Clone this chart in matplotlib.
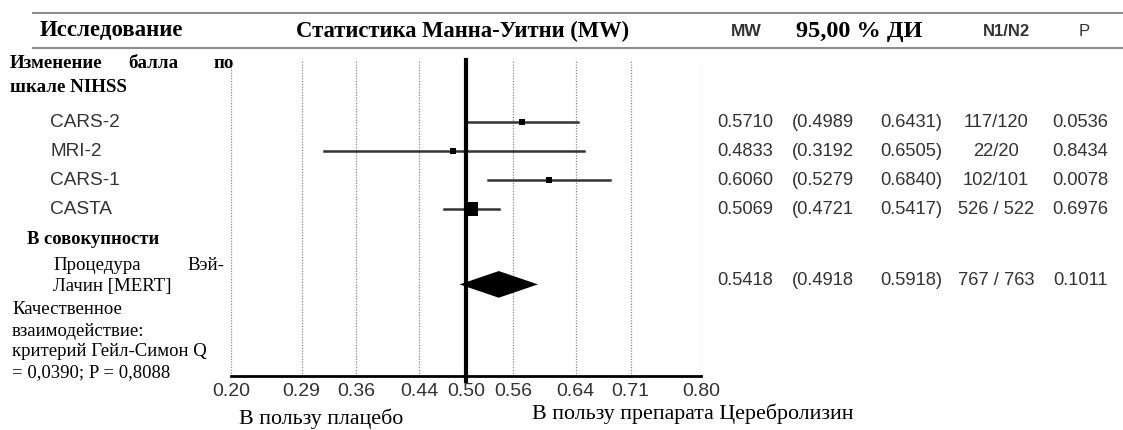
import matplotlib.pyplot as plt
from matplotlib.transforms import blended_transform_factory

# Mann-Whitney effect sizes per study (NIHSS change)
studies = ['CARS-2', 'MRI-2', 'CARS-1', 'CASTA']
mw = [0.5710, 0.4833, 0.6060, 0.5069]
ci_low = [0.4989, 0.3192, 0.5279, 0.4721]
ci_high = [0.6431, 0.6505, 0.6840, 0.5417]
p_vals = [0.0536, 0.8434, 0.0078, 0.6976]
n_fmt = ['117/120', '22/20', '102/101', '526 / 522']

# pooled (Wei-Lachin / MERT)
pooled_mw = 0.5418
pooled_low = 0.4918
pooled_high = 0.5918
pooled_n = '767 / 763'
pooled_p = 0.1011

xticks = [0.20, 0.29, 0.36, 0.44, 0.50, 0.56, 0.64, 0.71, 0.80]

W, H = 1123, 430
fig = plt.figure(figsize=(W / 100, H / 100), dpi=100)


def fx(px):
    return px / W


def fy(py):
    return 1 - py / H


serif = 'Liberation Serif'
sans = 'Liberation Sans'
grey = '#333333'

# forest panel
ax = fig.add_axes([fx(231), fy(376), fx(701) - fx(231), (376 - 60) / H])
ax.set_xlim(0.2, 0.8)
ax.set_ylim(9.76, -1.14)
for s in ['top', 'left', 'right']:
    ax.spines[s].set_visible(False)
ax.spines['bottom'].set_linewidth(2)
ax.set_yticks([])
ax.set_xticks(xticks)
ax.set_xticklabels([f'{t:.2f}' for t in xticks], fontfamily=sans, fontsize=14, color=grey)
ax.tick_params(axis='x', length=0, pad=5)

for t in xticks:
    if t != 0.5:
        ax.axvline(t, color='#8a8a8a', lw=0.9, ls=(0, (1, 1.2)), zorder=0)
ax.axvline(0.5, color='black', lw=3, ymin=-0.015, clip_on=False, zorder=3)

rows = [1, 2, 3, 4]
for y, m, lo, hi in zip(rows, mw, ci_low, ci_high):
    ax.plot([lo, hi], [y, y], color=grey, lw=1.8, zorder=2)
    side = max(5.5, 1.0 / (hi - lo))
    ax.plot(m, y, marker='s', color='black', ms=side * 0.72, mew=0, zorder=4)

pooled_row = 6.6
ax.fill([pooled_low, pooled_mw, pooled_high, pooled_mw],
        [pooled_row, pooled_row - 0.46, pooled_row, pooled_row + 0.46],
        color='black', lw=0, zorder=4)

# header band
fig.add_artist(plt.Line2D([fx(33), 1], [fy(13), fy(13)], color='#8c8c8c', lw=1.5))
fig.add_artist(plt.Line2D([fx(33), 1], [fy(48), fy(48)], color='#8c8c8c', lw=1.5))
hy = fy(31)
fig.text(fx(40), hy, 'Исследование', fontfamily=serif, fontweight='bold', fontsize=16.5, va='center')
fig.text(fx(463), hy, 'Статистика Манна-Уитни (MW)', fontfamily=serif, fontweight='bold',
         fontsize=16.3, va='center', ha='center')
fig.text(fx(746), hy, 'MW', fontfamily=sans, fontweight='bold', fontsize=12.5, va='center',
         ha='center', color=grey)
fig.text(fx(859), hy, '95,00 % ДИ', fontfamily=serif, fontweight='bold', fontsize=17.5,
         va='center', ha='center')
fig.text(fx(1006), hy, 'N1/N2', fontfamily=sans, fontweight='bold', fontsize=12, va='center',
         ha='center', color=grey)
fig.text(fx(1084), hy, 'P', fontfamily=sans, fontsize=12, va='center', ha='center', color=grey)

# left column labels
fig.text(fx(10), fy(64), 'Изменение', fontfamily=serif, fontweight='bold', fontsize=13.6, va='center')
fig.text(fx(128), fy(64), 'балла', fontfamily=serif, fontweight='bold', fontsize=13.6, va='center')
fig.text(fx(213), fy(64), 'по', fontfamily=serif, fontweight='bold', fontsize=13.6, va='center')
fig.text(fx(10), fy(87), 'шкале NIHSS', fontfamily=serif, fontweight='bold', fontsize=13.6, va='center')

tr = blended_transform_factory(fig.transFigure, ax.transData)
for y, name in zip(rows, studies):
    fig.text(fx(50), y, name, transform=tr, fontfamily=sans, fontsize=13.7, va='center', color=grey)

fig.text(fx(27), fy(240), 'В совокупности', fontfamily=serif, fontweight='bold', fontsize=13.3, va='center')
fig.text(fx(53), fy(265), 'Процедура', fontfamily=serif, fontsize=13.6, va='center')
fig.text(fx(187), fy(265), 'Вэй-', fontfamily=serif, fontsize=13.6, va='center')
fig.text(fx(53), fy(286), 'Лачин [MERT]', fontfamily=serif, fontsize=13.6, va='center')
for py, line in zip([310, 331, 352, 373], ['Качественное', 'взаимодействие:',
                                          'критерий Гейл-Симон Q', '= 0,0390; P = 0,8088']):
    fig.text(fx(12), fy(py), line, fontfamily=serif, fontsize=13.5, va='center')


# numeric columns
def table_row(y, m, lo, hi, n, p):
    kw = dict(transform=tr, fontfamily=sans, fontsize=13.2, va='center', color=grey)
    fig.text(fx(717), y, f'{m:.4f}', **kw)
    fig.text(fx(792), y, f'({lo:.4f}', **kw)
    fig.text(fx(942), y, f'{hi:.4f})', ha='right', **kw)
    fig.text(fx(996), y, n, ha='center', **kw)
    fig.text(fx(1108), y, f'{p:.4f}', ha='right', **kw)


for i, y in enumerate(rows):
    table_row(y, mw[i], ci_low[i], ci_high[i], n_fmt[i], p_vals[i])
table_row(6.45, pooled_mw, pooled_low, pooled_high, pooled_n, pooled_p)

# direction labels
fig.text(fx(239), fy(419), 'В пользу плацебо', fontfamily=serif, fontsize=15.8, va='center')
fig.text(fx(532), fy(414), 'В пользу препарата Церебролизин', fontfamily=serif, fontsize=15.8, va='center')

fig.savefig('out.png', dpi=100)
